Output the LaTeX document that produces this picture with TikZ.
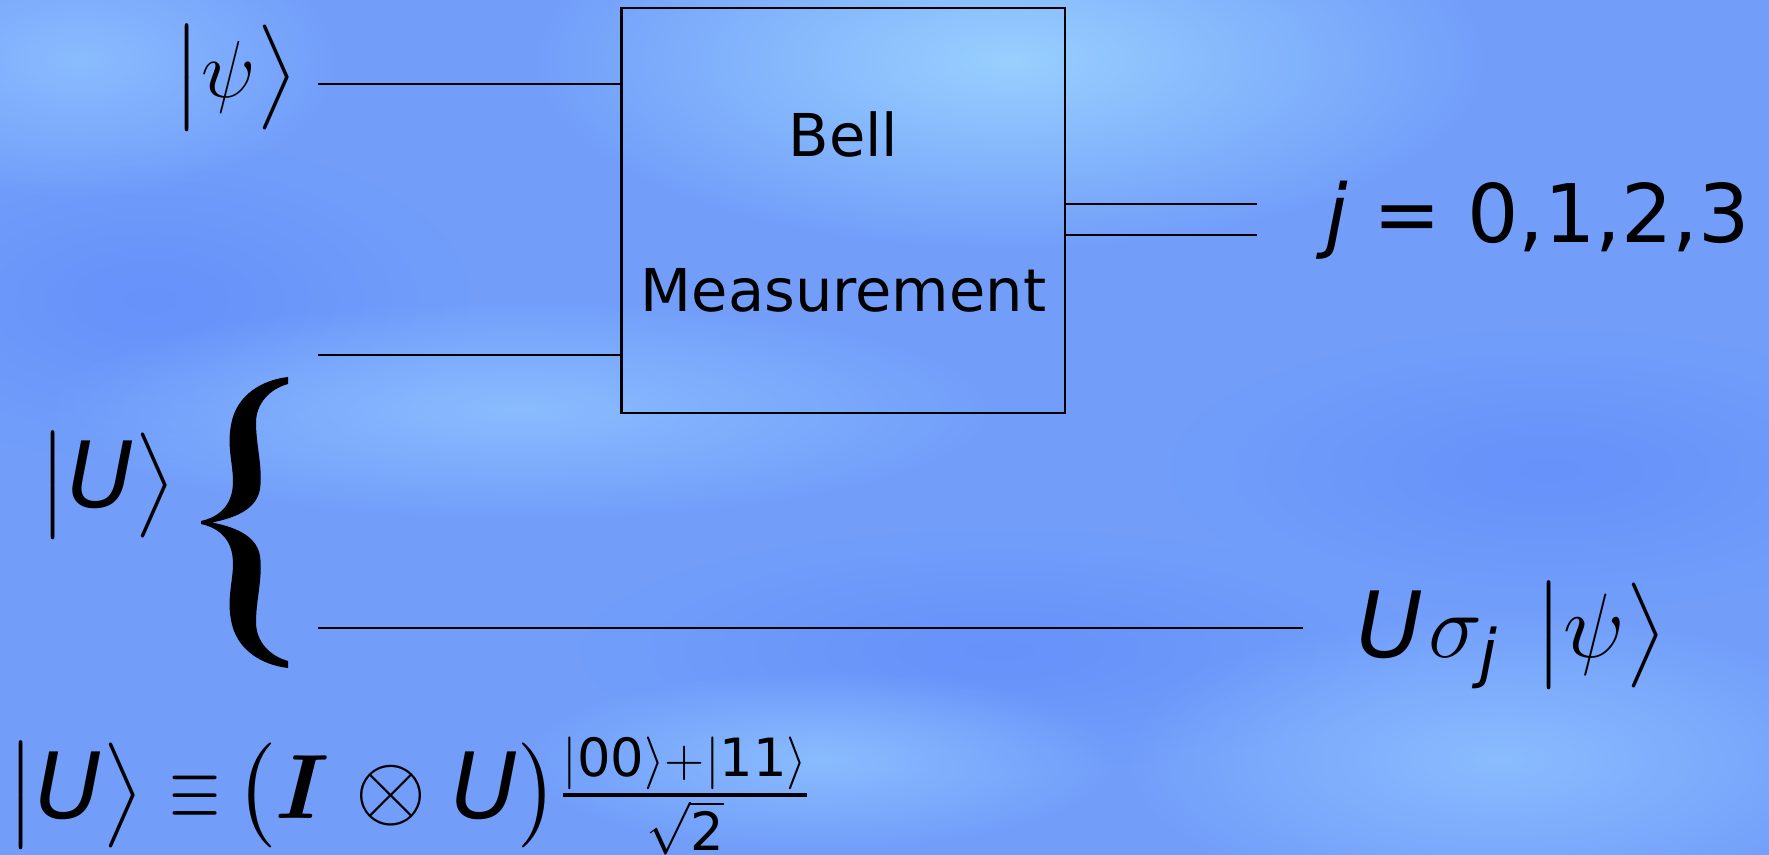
\documentclass[tikz,border=0pt]{standalone}
\usepackage{fix-cm}
\usepackage{amsmath}
\usepackage{fontspec}
\setmainfont{DejaVu Sans}
\usetikzlibrary{positioning,fadings}
\definecolor{bgblue}{RGB}{114,158,250}
\definecolor{bglight}{RGB}{138,188,255}
\definecolor{bgcyan}{RGB}{152,208,255}
\definecolor{bgdeep}{RGB}{102,146,250}
\tikzfading[name=blob,inner color=transparent!0,outer color=transparent!100]
\newcommand{\bket}[1]{\bigl|#1\bigr\rangle}
\newcommand{\cU}{\textit{U}}
\newcommand{\num}[1]{\text{#1}}
\newcommand{\sequiv}{\mskip5mu{\scalebox{0.72}[1]{$\equiv$}}\mskip3mu}

\begin{document}
\begin{tikzpicture}[x=0.1mm,y=-0.1mm,
    w/.style={line width=0.5pt,black},
    meas/.style={draw=black,line width=0.6pt,minimum width=44.35mm,
                 minimum height=40.5mm,inner sep=0pt},
    lbl/.style={inner sep=0pt,anchor=base west},
    txt/.style={inner sep=0pt,anchor=base,font=\fontsize{16.8}{20}\selectfont},
    spot/.style={path fading=blob}
  ]
  \useasboundingbox (0,0) rectangle (1769,855);
  \clip (0,0) rectangle (1769,855);
  % background
  \fill[bgblue] (0,0) rectangle (1769,855);
  \fill[bgdeep,spot] (150,300) ellipse (320 and 160);
  \fill[bgdeep,spot] (1000,650) ellipse (420 and 120);
  \fill[bgdeep,spot] (1550,470) ellipse (380 and 140);
  \fill[bgcyan,spot] (1010,60) ellipse (480 and 190);
  \fill[bglight,spot] (80,60) ellipse (260 and 140);
  \fill[bglight,spot] (520,410) ellipse (480 and 110);
  \fill[bglight,spot] (1500,760) ellipse (380 and 150);
  \fill[bglight,spot] (820,760) ellipse (300 and 90);

  % box and its text
  \node[meas] (bell) at (843.25,210.5) {};
  \node[txt] (belltxt) at (843.5,157) {Bell};
  \node[txt] (meastxt) at (843.5,312) {Measurement};

  % wires
  \coordinate (in1) at (318,84);
  \coordinate (in2) at (318,355);
  \coordinate (in3) at (318,628);
  \coordinate (o1) at (1257,204);
  \coordinate (o2) at (1257,235);
  \coordinate (o3) at (1303,628);
  \draw[w] (in1) -- (in1 -| bell.west);
  \draw[w] (in2) -- (in2 -| bell.west);
  \draw[w] (o1 -| bell.east) -- (o1);
  \draw[w] (o2 -| bell.east) -- (o2);
  \draw[w] (in3) -- (o3);

  % brace
  \fill[black] (288,377)
    .. controls (262,380) and (236,395) .. (231,425)
    .. controls (226,452) and (236,470) .. (232,492)
    .. controls (228,510) and (215,518) .. (201,521)
    -- (201,524)
    .. controls (215,527) and (228,535) .. (232,553)
    .. controls (236,575) and (226,593) .. (231,620)
    .. controls (236,650) and (262,665) .. (288,668)
    -- (288,661)
    .. controls (270,656) and (256,642) .. (256,622)
    .. controls (256,600) and (263,577) .. (260,556)
    .. controls (257,538) and (240,528) .. (212,522.5)
    .. controls (240,517) and (257,507) .. (260,489)
    .. controls (263,468) and (256,445) .. (256,423)
    .. controls (256,403) and (270,389) .. (288,384)
    -- cycle;

  % labels
  \node[lbl,font=\fontsize{23}{28}\selectfont] (psi) at (172,98) {$\bket{\psi}$};
  \node[lbl,font=\fontsize{26}{31}\selectfont] (uket) at (38,508) {$\bket{\cU}$};
  \node[lbl,font=\fontsize{23}{28}\selectfont] (jval) at (1325,243) {\textit{j} = 0,1,2,3};
  \node[lbl,font=\fontsize{26}{31}\selectfont] (res) at (1356,658)
    {$\cU\mskip1mu\sigma_{\textit{j}}\mskip7mu\bket{\psi}$};
  \node[lbl,font=\fontsize{26}{31}\selectfont] (def) at (6,818)
    {$\bket{\cU}\sequiv\bigl(\boldsymbol{I}\mskip1mu\otimes\mskip1mu\cU\bigr)
     \frac{\mbox{\fontsize{15}{18}\selectfont$|\num{00}\rangle{+}|\num{11}\rangle$}}
          {\mbox{\fontsize{15}{18}\selectfont$\sqrt{\num{2}}$}}$};
\end{tikzpicture}
\end{document}
